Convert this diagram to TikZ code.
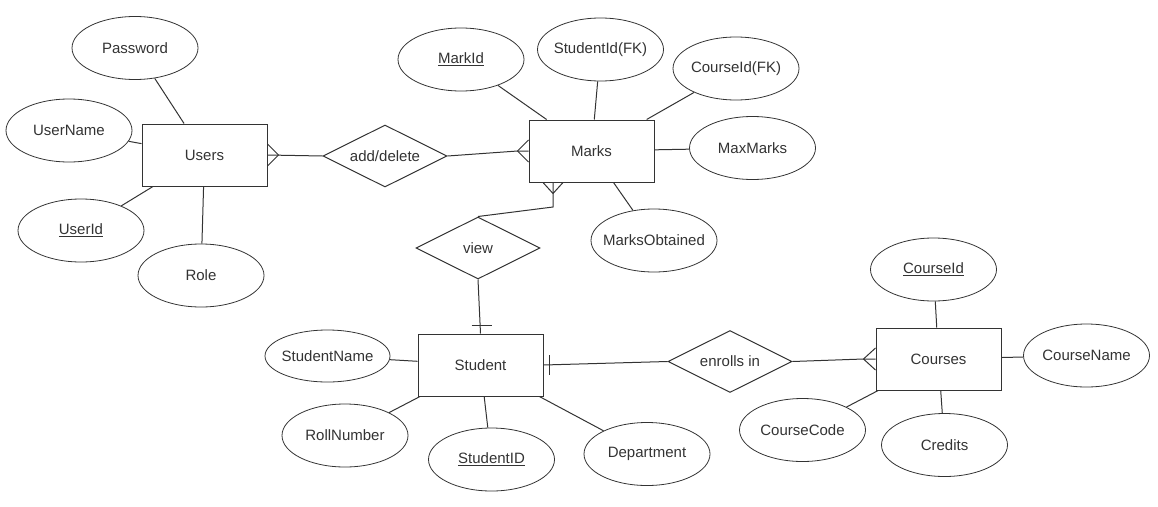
\documentclass[tikz,border=0pt]{standalone}
\usepackage{fontspec}
\setmainfont{Liberation Sans}
\usetikzlibrary{shapes.geometric}
\definecolor{ink}{HTML}{333333}
\newcommand\ertext[1]{\makebox[0pt]{#1}}
\begin{document}
\begin{tikzpicture}[x=1pt,y=-1pt,
  every node/.style={font=\fontsize{15}{18}\selectfont, text=ink},
  entity/.style={draw=ink, line width=1pt, rectangle, minimum width=125pt, minimum height=62pt, inner sep=0pt},
  attr/.style={draw=ink, line width=0.8pt, ellipse, minimum width=126pt, minimum height=63pt, inner sep=0pt},
  rel/.style={draw=ink, line width=1pt, diamond, aspect=2, minimum width=124pt, minimum height=62pt, inner sep=0pt},
  link/.style={draw=ink, line width=1pt},
]
\useasboundingbox (0,0) rectangle (1158,506);

% entities
\node[entity] (users)   at (204.5,155) {Users};
\node[entity] (marks)   at (591.5,151) {Marks};
\node[entity] (student) at (480.5,365) {Student};
\node[entity] (courses) at (938.5,359) {Courses};

% relationships
\node[rel] (adddel) at (385,156)   {\ertext{add/delete}};
\node[rel] (view)   at (478,248)   {\ertext{view}};
\node[rel] (enrol)  at (730,361.5) {\ertext{enrolls in}};

% attributes of Users
\node[attr] (pw)   at (135,48)    {\ertext{Password}};
\node[attr] (un)   at (69,130.5)  {\ertext{UserName}};
\node[attr] (uid)  at (81,230.5)  {\ertext{\underline{UserId}}};
\node[attr] (role) at (201,275.5) {\ertext{Role}};

% attributes of Marks
\node[attr] (mid) at (461,59.5)   {\ertext{\underline{MarkId}}};
\node[attr] (sfk) at (600.5,49.5) {\ertext{StudentId(FK)}};
\node[attr] (cfk) at (736,68.5)   {\ertext{CourseId(FK)}};
\node[attr] (mm)  at (752.5,148)  {\ertext{MaxMarks}};
\node[attr] (mo)  at (654,240.5)  {\ertext{MarksObtained}};

% attributes of Student
\node[attr, minimum width=125pt, minimum height=52pt] (sn) at (327.5,356) {\ertext{StudentName}};
\node[attr] (rn)  at (345,435.5)  {\ertext{RollNumber}};
\node[attr] (sid) at (491.5,459.5) {\ertext{\underline{StudentID}}};
\node[attr] (dep) at (647,454)    {\ertext{Department}};

% attributes of Courses
\node[attr] (cid) at (933.5,269.5) {\ertext{\underline{CourseId}}};
\node[attr] (cn)  at (1086.5,355.5) {\ertext{CourseName}};
\node[attr] (cc)  at (802.5,430)   {\ertext{CourseCode}};
\node[attr] (cr)  at (944.5,445)   {\ertext{Credits}};

% attribute links
\foreach \a/\e in {pw/users, un/users, uid/users, role/users,
                   mid/marks, sfk/marks, cfk/marks, mm/marks, mo/marks,
                   sn/student, rn/student, sid/student, dep/student,
                   cid/courses, cn/courses, cc/courses, cr/courses}
  \draw[link] (\a) -- (\e);

% Users -- add/delete -- Marks (many on both entity sides)
\draw[link] (users.east) -- (adddel.west);
\draw[link] ([yshift=11pt]users.east) -- ([xshift=11pt]users.east) -- ([yshift=-11pt]users.east);
\draw[link] (adddel.east) -- ([xshift=-11pt]marks.west) -- (marks.west);
\draw[link] ([yshift=11pt]marks.west) -- ([xshift=-11pt]marks.west) -- ([yshift=-11pt]marks.west);

% Marks -- view -- Student
\coordinate (bend) at (553,207);
\coordinate (mb) at (bend |- marks.south);
\draw[link] (view.north) -- (bend) -- (mb);
\draw[link] ([xshift=-10pt]mb) -- ([yshift=-11pt]mb) -- ([xshift=10pt]mb);
\draw[link] (view.south) -- (student.north);
\draw[link] ([xshift=-9pt,yshift=8pt]student.north) -- ([xshift=11pt,yshift=8pt]student.north);

% Student -- enrolls in -- Courses
\draw[link] (student.east) -- (enrol.west);
\draw[link] ([xshift=6pt,yshift=10pt]student.east) -- ([xshift=6pt,yshift=-10pt]student.east);
\draw[link] (enrol.east) -- ([xshift=-12pt]courses.west) -- (courses.west);
\draw[link] ([yshift=11pt]courses.west) -- ([xshift=-12pt]courses.west) -- ([yshift=-11pt]courses.west);
\end{tikzpicture}
\end{document}
